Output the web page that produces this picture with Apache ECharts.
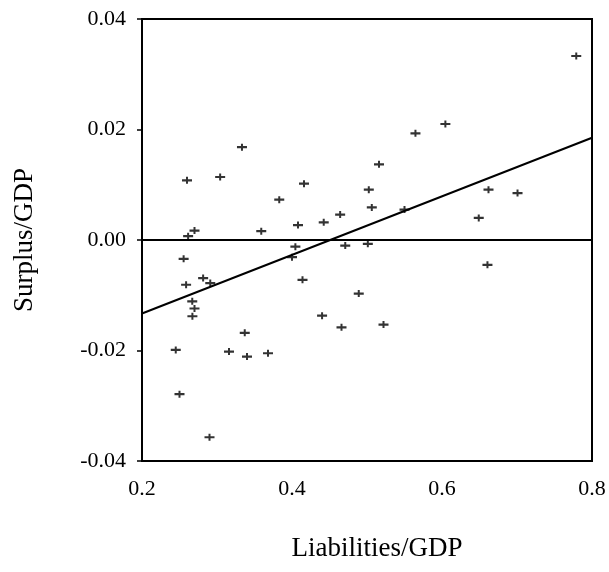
<!DOCTYPE html>
<html>
<head>
<meta charset="utf-8">
<title>Surplus vs Liabilities</title>
<script src="https://cdn.jsdelivr.net/npm/echarts@6/dist/echarts.min.js"></script>
<style>
  html, body { margin: 0; padding: 0; background: #fff; }
  #chart { width: 609px; height: 572px; }
</style>
</head>
<body>
<div id="chart"></div>
<script>
// liabilities/GDP (x) and surplus/GDP (y)
var liabilities = [0.779, 0.6045, 0.5646, 0.3333, 0.5160, 0.3042, 0.2600, 0.4160, 0.5024, 0.6620,
  0.7007, 0.3830, 0.5064, 0.5500, 0.4642, 0.6490, 0.4423, 0.4080, 0.2700, 0.3590,
  0.2615, 0.4045, 0.4710, 0.5011, 0.4000, 0.6606, 0.2555, 0.4140, 0.2815, 0.2910,
  0.2588, 0.4890, 0.2670, 0.2700, 0.2672, 0.4401, 0.5220, 0.4660, 0.3370, 0.2450,
  0.3160, 0.3680, 0.3400, 0.2500, 0.2900];
var surplus = [0.0333, 0.0210, 0.0193, 0.0168, 0.0137, 0.0114, 0.0108, 0.0102, 0.0091, 0.0091,
  0.0085, 0.0073, 0.0059, 0.0055, 0.0046, 0.0040, 0.0032, 0.0027, 0.0017, 0.0016,
  0.0007, -0.0012, -0.0010, -0.0007, -0.0031, -0.0045, -0.0034, -0.0072, -0.0069, -0.0078,
  -0.0081, -0.0097, -0.0111, -0.0124, -0.0138, -0.0137, -0.0153, -0.0158, -0.0168, -0.0199,
  -0.0202, -0.0205, -0.0211, -0.0279, -0.0357];

// fitted line end points
var fitX = [0.2, 0.8];
var fitY = [-0.0133, 0.0185];

// zero reference line
var zeroX = [0.2, 0.8];
var zeroY = [0, 0];

var xTicks = [0.2, 0.4, 0.6, 0.8];
var yTicks = [-0.04, -0.02, 0.00, 0.02, 0.04];

function pairs(xs, ys) {
  var out = [];
  for (var i = 0; i < xs.length; i++) {
    out.push([xs[i], ys[i]]);
  }
  return out;
}

var serif = "'Liberation Serif', 'Times New Roman', serif";
// small plus sign, wide bar thicker than the upright
var plusMark = "path://M0,2.4H4V0H6V2.4H10V4.6H6V7H4V4.6H0Z";

var chart = echarts.init(document.getElementById("chart"));
chart.setOption({
  backgroundColor: "#fff",
  animation: false,
  grid: {
    left: 142,
    right: 17,
    top: 19,
    bottom: 111,
    show: true,
    borderColor: "#000",
    borderWidth: 2,
    outerBoundsMode: "none"
  },
  xAxis: {
    type: "value",
    min: xTicks[0],
    max: xTicks[xTicks.length - 1],
    interval: 0.2,
    name: "Liabilities/GDP",
    nameLocation: "middle",
    nameGap: 74,
    nameTextStyle: {
      fontFamily: serif,
      fontSize: 27,
      color: "#000",
      padding: [0, 0, 0, 20]
    },
    axisLine: { show: true, lineStyle: { color: "#000", width: 2 } },
    axisTick: { show: false },
    splitLine: { show: false },
    axisLabel: {
      fontFamily: serif,
      fontSize: 22,
      color: "#000",
      margin: 17,
      formatter: function (v) { return v.toFixed(1); }
    }
  },
  yAxis: {
    type: "value",
    min: yTicks[0],
    max: yTicks[yTicks.length - 1],
    interval: 0.02,
    name: "Surplus/GDP",
    nameLocation: "middle",
    nameGap: 104,
    nameRotate: 90,
    nameTextStyle: {
      fontFamily: serif,
      fontSize: 27,
      color: "#000"
    },
    axisLine: { show: true, lineStyle: { color: "#000", width: 2 } },
    axisTick: { show: true, inside: false, length: 5, lineStyle: { color: "#000", width: 1.5 } },
    splitLine: { show: false },
    axisLabel: {
      fontFamily: serif,
      fontSize: 22,
      color: "#000",
      margin: 16,
      formatter: function (v) { return v.toFixed(2); }
    }
  },
  series: [
    {
      name: "zero",
      type: "line",
      data: pairs(zeroX, zeroY),
      symbol: "none",
      lineStyle: { color: "#000", width: 1.5 },
      silent: true
    },
    {
      name: "fit",
      type: "line",
      data: pairs(fitX, fitY),
      symbol: "none",
      lineStyle: { color: "#000", width: 2 },
      silent: true
    },
    {
      name: "countries",
      type: "scatter",
      data: pairs(liabilities, surplus),
      symbol: plusMark,
      symbolSize: [10, 7],
      itemStyle: { color: "#000" }
    }
  ]
});
</script>
</body>
</html>
